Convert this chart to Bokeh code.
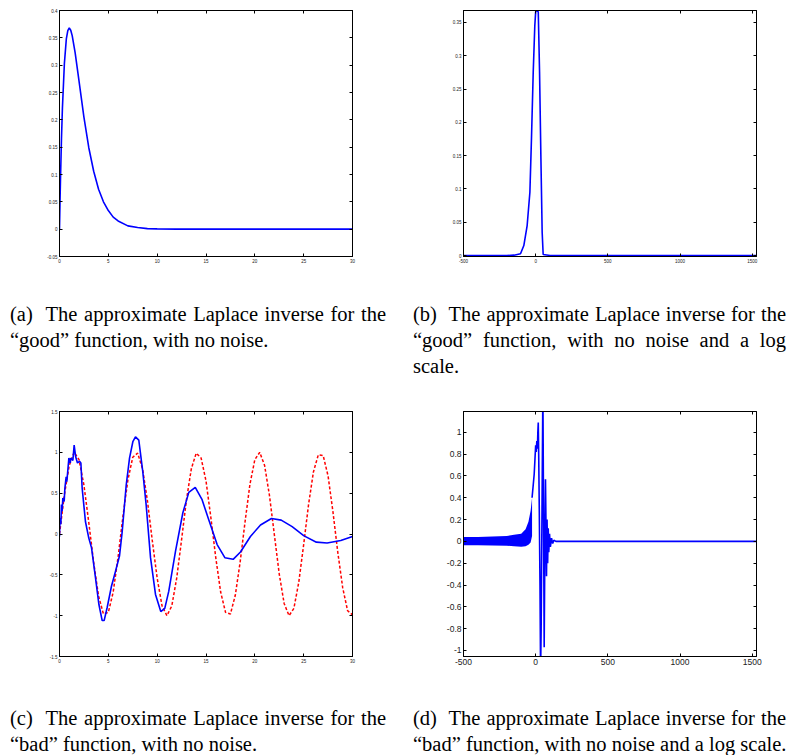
from bokeh.plotting import figure
from bokeh.models import Range1d, FixedTicker, LinearAxis, Div
from bokeh.layouts import column, row
from bokeh.embed import file_html
from bokeh.resources import INLINE

# ---------------- data ----------------
# (a) "good" function, no noise
a_t = [0, 0.05, 0.1, 0.2, 0.3, 0.5, 0.7, 0.85, 1.0, 1.15, 1.3, 1.6, 2.0, 2.5, 3.0, 3.5,
       4.0, 4.5, 5.0, 5.5, 6.0, 7.0, 8.0, 9.0, 10.0, 12.0, 15.0, 20.0, 25.0, 30.0]
a_v = [0, 0.048, 0.09, 0.164, 0.222, 0.303, 0.348, 0.363, 0.368, 0.364, 0.354, 0.323, 0.271,
       0.205, 0.149, 0.106, 0.073, 0.050, 0.034, 0.022, 0.015, 0.006, 0.003, 0.001, 0.0005,
       0.0001, 0, 0, 0, 0]

# (b) "good" function, log scale
b_x = [-500, -200, -150, -105, -82, -59, -40, -29, -17, -6, 0, 6, 18, 27, 36, 45, 52, 100, 500, 1000, 1530]
b_v = [0, 0, 0.0005, 0.0026, 0.015, 0.045, 0.095, 0.176, 0.275, 0.345, 0.366, 0.368, 0.366,
       0.275, 0.150, 0.035, 0.0015, 0, 0, 0, 0]

# (c) "bad" function, no noise: exact (red dashed) and approximate (blue)
c_t_exact = [0, 0.5, 1, 1.5, 2, 2.5, 3, 3.5, 4, 4.5, 5, 5.5, 6, 6.5, 7, 7.5, 8, 8.5, 9, 9.5,
             10, 10.5, 11, 11.5, 12, 12.5, 13, 13.5, 14, 14.5, 15, 15.5, 16, 16.5, 17, 17.5,
             18, 18.5, 19, 19.5, 20, 20.5, 21, 21.5, 22, 22.5, 23, 23.5, 24, 24.5, 25, 25.5,
             26, 26.5, 27, 27.5, 28, 28.5, 29, 29.5, 30]
c_v_exact = [0, 0.48, 0.84, 1.00, 0.91, 0.60, 0.14, -0.35, -0.76, -0.98, -0.96, -0.71, -0.28,
             0.22, 0.66, 0.94, 0.99, 0.80, 0.41, -0.08, -0.54, -0.88, -1.00, -0.88, -0.54,
             -0.07, 0.42, 0.80, 0.99, 0.93, 0.65, 0.20, -0.29, -0.71, -0.96, -0.98, -0.75,
             -0.34, 0.15, 0.61, 0.91, 1.00, 0.84, 0.47, -0.01, -0.49, -0.85, -1.00, -0.91,
             -0.59, -0.13, 0.36, 0.76, 0.97, 0.96, 0.71, 0.27, -0.23, -0.66, -0.94, -0.99]
c_t_approx = [0, 0.03, 0.07, 0.14, 0.2, 0.27, 0.34, 0.48, 0.55, 0.68, 0.75, 0.96, 1.1, 1.16,
              1.37, 1.5, 1.65, 1.84, 2.05, 2.19, 2.32, 2.66, 3.0, 3.28, 3.69, 4.03, 4.37,
              4.57, 4.88, 5.32, 5.73, 6.14, 6.42, 6.83, 7.17, 7.51, 7.78, 8.12, 8.53, 8.87,
              9.32, 9.83, 10.37, 10.78, 11.19, 11.88, 12.63, 13.24, 13.9, 14.6, 15.29, 16.14,
              16.93, 17.78, 18.53, 19.55, 20.58, 21.7, 22.7, 23.82, 25.0, 26.3, 27.4, 28.8, 30.0]
c_v_approx = [-0.03, 0.10, 0.195, 0.12, 0.36, 0.28, 0.44, 0.40, 0.56, 0.70, 0.64, 0.93, 0.87,
              0.93, 0.90, 1.09, 0.95, 0.87, 0.89, 0.87, 0.56, 0.15, -0.05, -0.17, -0.54,
              -0.86, -1.06, -1.06, -0.90, -0.64, -0.46, -0.27, 0.03, 0.60, 0.93, 1.13, 1.19,
              1.15, 0.76, 0.36, -0.29, -0.74, -0.95, -0.91, -0.70, -0.21, 0.26, 0.51, 0.57,
              0.42, 0.17, -0.13, -0.29, -0.31, -0.22, -0.03, 0.11, 0.19, 0.17, 0.09, -0.02,
              -0.10, -0.11, -0.08, -0.03]

# (d) "bad" function, log scale: dense oscillation band and the main trace
d_band_x = [-500, -400, -300, -200, -150, -100, -70, -50, -35, -25]
d_band_hi = [0.04, 0.04, 0.045, 0.05, 0.06, 0.07, 0.11, 0.18, 0.28, 0.40]
d_band_lo = [-0.035, -0.035, -0.038, -0.04, -0.045, -0.05, -0.045, -0.03, -0.01, 0.05]
d_x = [-25, -18, -10, -5, 0, 4, 8, 12, 15, 18, 21, 25, 30, 34, 38, 44, 50, 54, 59, 64, 68,
       72, 75, 79, 83, 87, 91, 96, 102, 110, 118, 126, 140, 500, 1000, 1530]
d_v = [0.40, 0.50, 0.62, 0.75, 0.88, 0.82, 0.92, 0.85, 1.0, 1.09, 0.80, 0.30, -0.40, -1.2,
       -0.8, 0.3, 1.4, 0.4, -0.97, 0.0, 0.57, 0.1, -0.32, 0.2, -0.2, 0.12, -0.1, 0.07,
       -0.05, 0.03, -0.02, 0.01, 0, 0, 0, 0]

# ticks and labels
a_xticks = [0, 5, 10, 15, 20, 25, 30]
a_xlabels = ["0", "5", "10", "15", "20", "25", "30"]
a_yticks = [-0.05, 0, 0.05, 0.1, 0.15, 0.2, 0.25, 0.3, 0.35, 0.4]
a_ylabels = ["-0.05", "0", "0.05", "0.1", "0.15", "0.2", "0.25", "0.3", "0.35", "0.4"]
b_xticks = [-500, 0, 500, 1000, 1500]
b_xlabels = ["-500", "0", "500", "1000", "1500"]
b_yticks = [0, 0.05, 0.1, 0.15, 0.2, 0.25, 0.3, 0.35]
b_ylabels = ["0", "0.05", "0.1", "0.15", "0.2", "0.25", "0.3", "0.35"]
c_xticks = a_xticks
c_xlabels = a_xlabels
c_yticks = [-1.5, -1, -0.5, 0, 0.5, 1, 1.5]
c_ylabels = ["-1.5", "-1", "-0.5", "0", "0.5", "1", "1.5"]
d_xticks = b_xticks
d_xlabels = b_xlabels
d_yticks = [-1, -0.8, -0.6, -0.4, -0.2, 0, 0.2, 0.4, 0.6, 0.8, 1]
d_ylabels = ["-1", "-0.8", "-0.6", "-0.4", "-0.2", "0", "0.2", "0.4", "0.6", "0.8", "1"]

cap_a = [("(a)&nbsp; The approximate Laplace inverse for the", True),
         ("&ldquo;good&rdquo; function, with no noise.", False)]
cap_b = [("(b)&nbsp; The approximate Laplace inverse for the", True),
         ("&ldquo;good&rdquo; function, with no noise and a log", True),
         ("scale.", False)]
cap_c = [("(c)&nbsp; The approximate Laplace inverse for the", True),
         ("&ldquo;bad&rdquo; function, with no noise.", False)]
cap_d = [("(d)&nbsp; The approximate Laplace inverse for the", True),
         ("&ldquo;bad&rdquo; function, with no noise and a log scale.", True)]

BLUE = "#0000ff"
RED = "#ff0000"


def make_fig(width, height, xr, yr, borders, xticks, xlabels, yticks, ylabels, fs):
    l, r, t, b = borders
    p = figure(width=width, height=height, x_range=Range1d(*xr), y_range=Range1d(*yr),
               output_backend="svg", toolbar_location=None,
               min_border_left=l, min_border_right=r, min_border_top=t, min_border_bottom=b,
               background_fill_color="white", border_fill_color="white")
    p.margin = 0
    p.xgrid.visible = False
    p.ygrid.visible = False
    p.outline_line_color = "black"
    p.outline_line_width = 1
    p.outline_line_alpha = 1
    for ax, ticks, labels in ((p.xaxis[0], xticks, xlabels), (p.yaxis[0], yticks, ylabels)):
        ax.ticker = FixedTicker(ticks=ticks)
        ax.major_label_overrides = {tk: lb for tk, lb in zip(ticks, labels)}
        ax.major_tick_in = 3
        ax.major_tick_out = 0
        ax.minor_tick_in = 0
        ax.minor_tick_out = 0
        ax.axis_line_color = "black"
        ax.major_tick_line_color = "black"
        ax.major_label_text_font = "Liberation Sans"
        ax.major_label_text_font_size = fs
        ax.major_label_text_color = "#222222"
        ax.major_label_standoff = 2
    for ticks, side in ((xticks, "above"), (yticks, "right")):
        ax2 = LinearAxis(ticker=FixedTicker(ticks=ticks), major_tick_in=3, major_tick_out=0,
                         minor_tick_in=0, minor_tick_out=0, major_label_text_font_size="1px",
                         major_label_text_color=None, major_label_standoff=0,
                         axis_line_color="black", major_tick_line_color="black")
        p.add_layout(ax2, side)
    return p


pa = make_fig(400, 278, (0, 30), (-0.05, 0.4), (59, 48, 10, 22),
              a_xticks, a_xlabels, a_yticks, a_ylabels, "4.5px")
pa.line(a_t, a_v, line_color=BLUE, line_width=1.6)

pb = make_fig(386, 278, (-500, 1530), (-0.0015, 0.368), (63, 30, 10, 22),
              b_xticks, b_xlabels, b_yticks, b_ylabels, "4.5px")
pb.line(b_x, b_v, line_color=BLUE, line_width=1.6)

pc = make_fig(400, 270, (0, 30), (-1.5, 1.5), (59, 48, 3, 22),
              c_xticks, c_xlabels, c_yticks, c_ylabels, "4.5px")
pc.line(c_t_exact, c_v_exact, line_color=RED, line_width=1.5, line_dash="3 2")
pc.line(c_t_approx, c_v_approx, line_color=BLUE, line_width=1.6)

pd = make_fig(386, 270, (-500, 1530), (-1.055, 1.19), (63, 30, 3, 22),
              d_xticks, d_xlabels, d_yticks, d_ylabels, "8.5px")
pd.varea(x=d_band_x, y1=d_band_lo, y2=d_band_hi, fill_color=BLUE)
pd.line(d_x, d_v, line_color=BLUE, line_width=1.6)


def caption(lines, width, height, pad_left, text_width, pad_top):
    parts = []
    for txt, just in lines:
        if just:
            st = "white-space:nowrap;text-align:justify;text-align-last:justify;"
        else:
            st = "white-space:nowrap;text-align:left;"
        parts.append(f'<div style="{st}">{txt}</div>')
    html = (f'<div style="font-family:\'Liberation Serif\',\'Times New Roman\',serif;'
            f'font-size:20.5px;line-height:26px;color:#000;width:{text_width}px;'
            f'padding-top:{pad_top}px;margin-left:{pad_left}px;">' + "".join(parts) + "</div>")
    return Div(text=html, width=width, height=height, margin=0)


da = caption(cap_a, 400, 130, 10, 376, 23)
db = caption(cap_b, 386, 130, 13, 373, 23)
dc = caption(cap_c, 400, 70, 10, 376, 27)
dd = caption(cap_d, 386, 70, 13, 373, 27)

layout = column(row(pa, pb, spacing=0), row(da, db, spacing=0),
                row(pc, pd, spacing=0), row(dc, dd, spacing=0), spacing=0)

open("out.html", "w").write(file_html(layout, INLINE))
